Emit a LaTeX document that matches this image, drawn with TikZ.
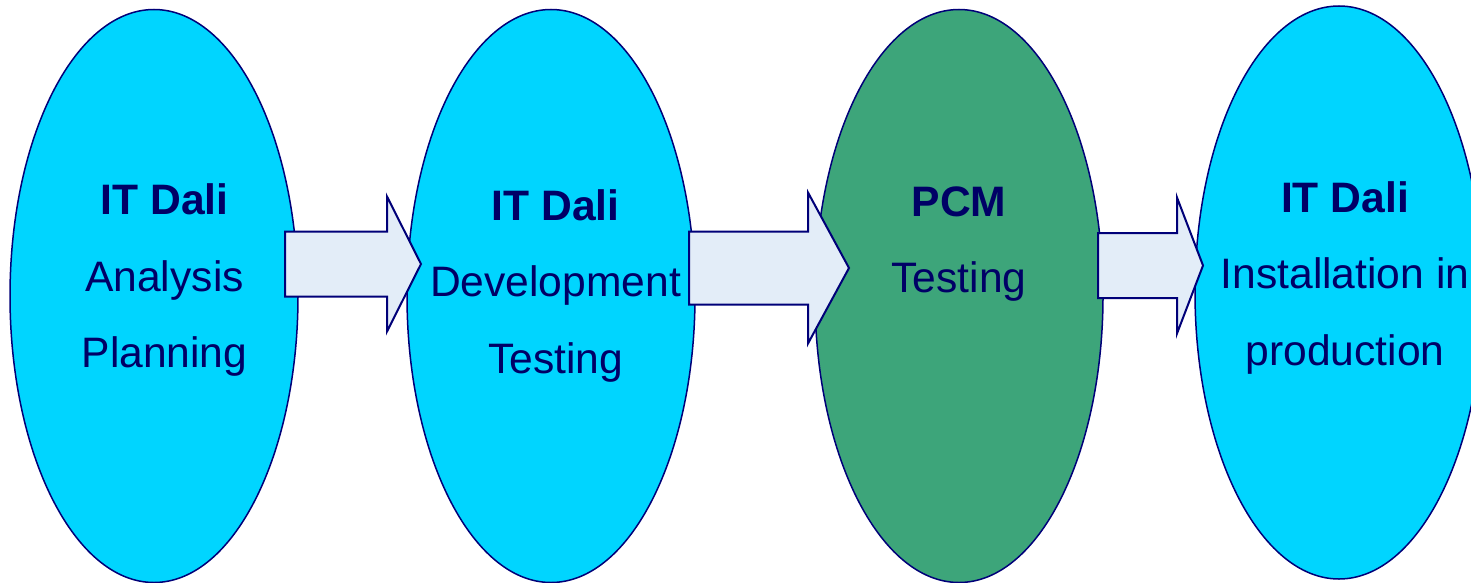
\documentclass[tikz,border=0pt]{standalone}
\usepackage{fontspec}
\setmainfont{Liberation Sans}
\usetikzlibrary{positioning,calc,shapes.geometric}

\definecolor{phasecyan}{RGB}{0,213,255}
\definecolor{pcmgreen}{RGB}{61,165,122}
\definecolor{navyline}{RGB}{0,0,120}
\definecolor{navytext}{RGB}{0,0,102}
\definecolor{arrowfill}{RGB}{227,237,248}

\begin{document}
\begin{tikzpicture}[x=0.5pt,y=-0.5pt,
	phase/.style={ellipse, draw=navyline, fill=phasecyan, line width=0.75pt,
		minimum width=144pt, minimum height=286.5pt, inner sep=0pt, outer sep=0pt},
	txt/.style={text=navytext, align=center, anchor=north, inner sep=0pt,
		font=\fontsize{21.3}{38.3}\selectfont},
	blockarrow/.style n args={3}{draw=navyline, fill=arrowfill, line width=1pt,
		to path={let \p1=(\tikztostart), \p2=(\tikztotarget) in
			(\x1,\y1+#1) -- (\x2-#3,\y1+#1) -- (\x2-#3,\y1+#2) -- (\x2,\y2)
			-- (\x2-#3,\y1-#2) -- (\x2-#3,\y1-#1) -- (\x1,\y1-#1) -- cycle}}]

\useasboundingbox (0,0) rectangle (1471,583);
\clip (0,0) rectangle (1471,583);

\node[phase] (ana) at (154,296) {};                          %IT Dali: analysis
\node[phase, right=54.5pt of ana] (dev) {};                   %IT Dali: development
\node[phase, fill=pcmgreen, right=60pt of dev] (pcm) {};      %PCM testing
\node[phase, right=46pt of pcm, yshift=1.75pt] (prod) {};     %installation

%block arrows between the phases
\path ($(ana.east)+(-13,-32)$) edge[blockarrow={16.25pt}{33.75pt}{17pt}] ($(dev.west)+(14,-32)$);
\path ($(dev.east)+(-6,-28)$) edge[blockarrow={18.25pt}{37.75pt}{20.5pt}] ($(pcm.west)+(34,-28)$);
\path ($(pcm.east)+(-5,-30.5)$) edge[blockarrow={16.25pt}{34pt}{13pt}] ($(prod.west)+(8,-27)$);

\node[txt] (ana-t) at ($(ana.center)+(10.5,-112.5)$) {\textbf{IT Dali}\\Analysis\\Planning};
\node[txt] (dev-t) at ($(dev.center)+(4.5,-107)$) {\textbf{IT Dali}\\Development\\Testing};
\node[txt] (pcm-t) at ($(pcm.center)+(0,-110)$) {\textbf{PCM}\\Testing};
\node[txt] (prod-t) at ($(prod.center)+(6,-111.5)$) {\textbf{IT Dali}\\Installation in\\production};

\end{tikzpicture}
\end{document}
